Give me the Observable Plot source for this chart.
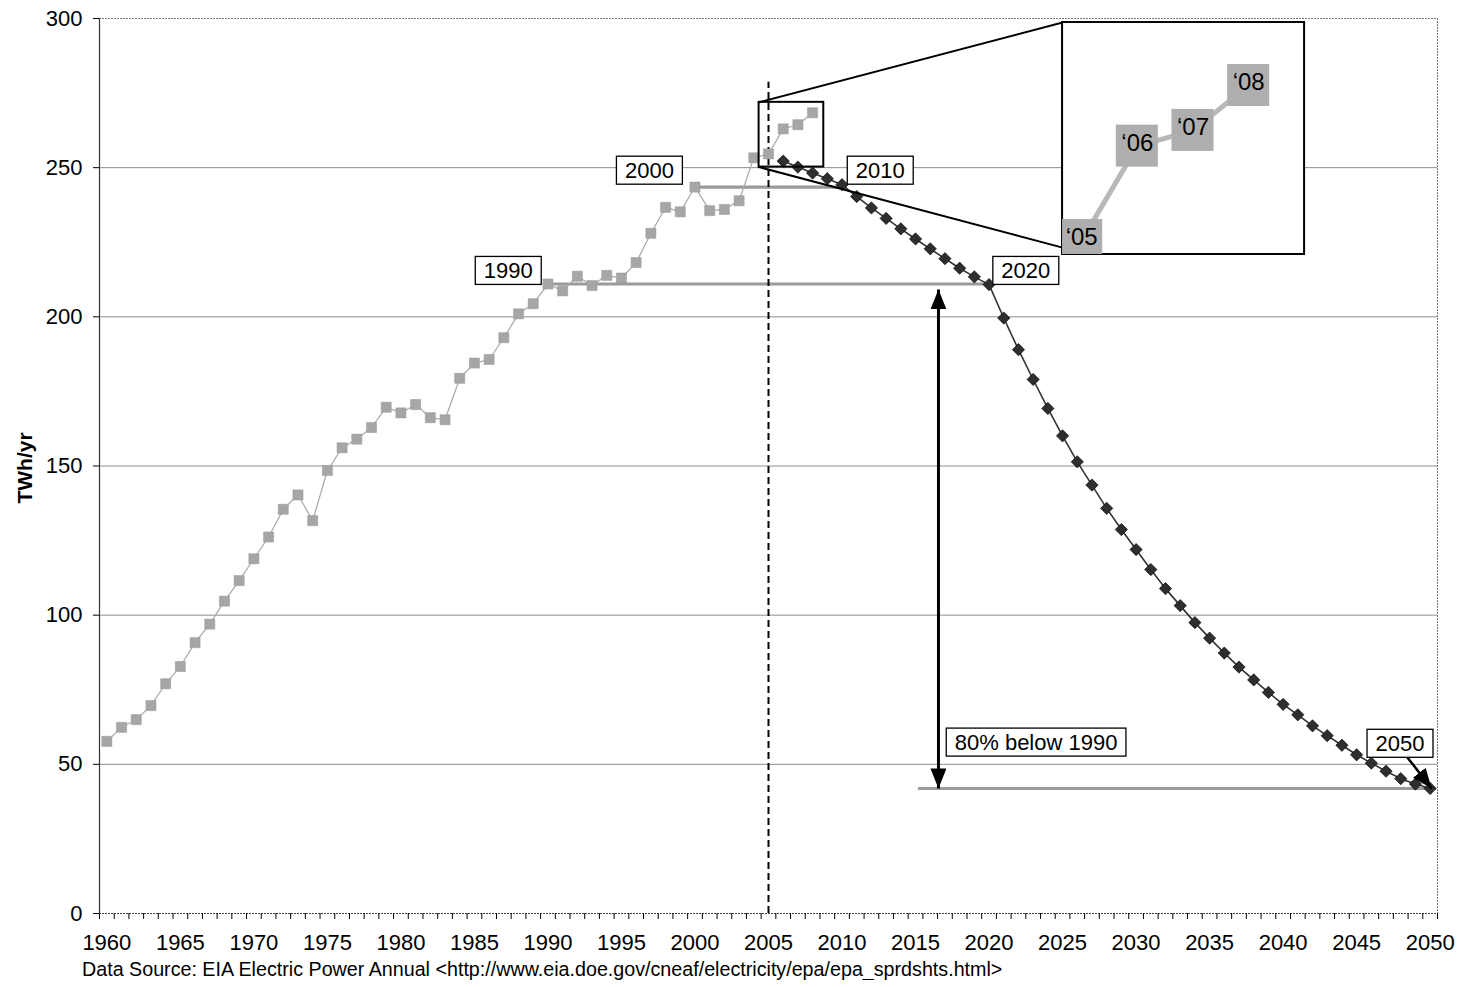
<!DOCTYPE html>
<html>
<head>
<meta charset="utf-8">
<script src="https://cdn.jsdelivr.net/npm/d3@7"></script>
<script src="https://cdn.jsdelivr.net/npm/@observablehq/plot@0.6"></script>
<style>
  body { margin: 0; background: #fff; }
  #caption { font-family: "Liberation Sans", Arial, sans-serif; font-size: 19.7px; line-height: 22px; margin-left: 82px; color: #000; white-space: nowrap; }
</style>
</head>
<body>
<div id="chart"></div>
<div id="caption">Data Source: EIA Electric Power Annual &lt;http://www.eia.doe.gov/cneaf/electricity/epa/epa_sprdshts.html&gt;</div>
<script>
// ---------- data ----------
const histYears = d3.range(1960, 2009);
const histValues = [
  57.7, 62.4, 65.0, 69.7, 77.0, 82.8, 90.8, 97.0, 104.7, 111.6,
  118.9, 126.2, 135.5, 140.3, 131.7, 148.5, 156.1, 159.0, 162.9, 169.7,
  167.8, 170.6, 166.2, 165.5, 179.4, 184.5, 185.7, 193.0, 201.0, 204.4,
  211.0, 208.7, 213.6, 210.5, 213.9, 213.0, 218.2, 228.0, 236.7, 235.2,
  243.5, 235.6, 236.0, 238.9, 253.3, 254.6, 263.0, 264.4, 268.4
];
const projYears = d3.range(2006, 2051);
const projValues = [
  252.2, 250.2, 248.2, 246.3, 244.3, 240.3, 236.5, 233.0, 229.5, 226.1,
  222.8, 219.5, 216.3, 213.4, 210.8, 199.6, 189.0, 179.0, 169.3, 160.1,
  151.4, 143.6, 135.8, 128.7, 122.0, 115.3, 108.9, 103.2, 97.5, 92.3,
  87.3, 82.6, 78.3, 74.1, 70.1, 66.6, 62.9, 59.6, 56.4, 53.2,
  50.4, 47.7, 45.2, 43.4, 41.9
];
const yTicks = [0, 50, 100, 150, 200, 250, 300];
const gridValues = [50, 100, 150, 200, 250];
const xLabelYears = d3.range(1960, 2051, 5);
const xTickBounds = d3.range(1959.5, 2051, 1);
const insetYears = [2005, 2006, 2007, 2008];
const insetLabels = ["\u201805", "\u201806", "\u201807", "\u201808"];

// annotation labels (boxed)
const boxedLabels = [
  {text: "2000", x: 1996.9, y: 249.0},
  {text: "2010", x: 2012.6, y: 249.0},
  {text: "1990", x: 1987.3, y: 215.4},
  {text: "2020", x: 2022.5, y: 215.4},
  {text: "80% below 1990", x: 2023.2, y: 57.3},
  {text: "2050", x: 2047.95, y: 56.9}
];

// ---------- derived tables ----------
const hist = histYears.map((year, i) => ({year, value: histValues[i]}));
const proj = projYears.map((year, i) => ({year, value: projValues[i]}));
const hv = y => histValues[histYears.indexOf(y)];
const pv = y => projValues[projYears.indexOf(y)];

const levelLines = [
  {x1: 2000, x2: 2010.35, y: hv(2000)},
  {x1: 1990, x2: 2020, y: hv(1990)},
  {x1: 2015.2, x2: 2050, y: pv(2050)}
];

// zoom box and inset box (data units)
const zoomBox = {x1: 2004.36, x2: 2008.76, y1: 250.2, y2: 271.9};
const insetBox = {x1: 2025.0, x2: 2041.46, y1: 220.9, y2: 298.66};
const connectors = [
  {id: "a", x: zoomBox.x1, y: zoomBox.y2}, {id: "a", x: insetBox.x1, y: insetBox.y2},
  {id: "b", x: zoomBox.x1, y: zoomBox.y1}, {id: "b", x: insetBox.x1, y: 223.2}
];
// inset magnification of the 2005-2008 points
const insetAnchor = {x: 2026.3, y: 225.6};
const insetKx = 3.786, insetKy = 3.764;
const halfW = 1.43, halfH = 7.04;
const inset = insetYears.map((year, i) => {
  const cx = insetAnchor.x + (year - 2005) * insetKx;
  const cy = insetAnchor.y + (hv(year) - hv(2005)) * insetKy;
  return {
    label: insetLabels[i], cx, cy,
    x1: Math.max(cx - halfW, insetBox.x1), x2: Math.min(cx + halfW, insetBox.x2),
    y1: Math.max(cy - halfH, insetBox.y1), y2: Math.min(cy + halfH, insetBox.y2)
  };
});

const doubleArrow = [{x: 2016.56, y1: 209.2, y2: pv(2050)}];
const arrow2050 = [{x1: 2048.44, y1: 52.4, x2: 2050.1, y2: pv(2050)}];

// ---------- plot ----------
const chart = Plot.plot({
  width: 1461,
  height: 958,
  marginLeft: 99,
  marginRight: 24,
  marginTop: 18,
  marginBottom: 45,
  x: {domain: [1959.5, 2050.5]},
  y: {domain: [0, 300]},
  style: {fontFamily: "'Liberation Sans', Arial, sans-serif", fontSize: "22px", background: "white", color: "black"},
  marks: [
    Plot.ruleY(gridValues, {stroke: "#8c8c8c", strokeWidth: 1}),
    Plot.ruleY([300], {stroke: "#777", strokeDasharray: "2,1"}),
    Plot.ruleX([2050.5], {stroke: "#777", strokeDasharray: "2,1"}),
    Plot.ruleY([0], {stroke: "#444", strokeDasharray: "2,1", strokeWidth: 1.2}),
    Plot.ruleX([1959.5], {stroke: "#333", strokeWidth: 1.2}),
    Plot.ruleY(levelLines, {y: "y", x1: "x1", x2: "x2", stroke: "#9a9a9a", strokeWidth: 3.2}),
    Plot.ruleX([2005], {y1: 0, y2: 278.6, stroke: "black", strokeWidth: 2, strokeDasharray: "7,4"}),
    Plot.line(hist, {x: "year", y: "value", stroke: "#a8a8a8", strokeWidth: 1.2}),
    Plot.dot(hist, {x: "year", y: "value", symbol: "square", r: 5.7, fill: "#a6a6a6", stroke: "#999", strokeWidth: 0.5}),
    Plot.line(proj, {x: "year", y: "value", stroke: "#333", strokeWidth: 1.6}),
    Plot.dot(proj, {x: "year", y: "value", symbol: "square", rotate: 45, r: 4.9, fill: "#2e2e2e", stroke: "#000", strokeWidth: 0.6}),
    Plot.rect([zoomBox], {x1: "x1", x2: "x2", y1: "y1", y2: "y2", fill: "none", stroke: "black", strokeWidth: 2}),
    Plot.line(connectors, {x: "x", y: "y", z: "id", stroke: "black", strokeWidth: 2}),
    Plot.rect([insetBox], {x1: "x1", x2: "x2", y1: "y1", y2: "y2", fill: "white", stroke: "black", strokeWidth: 2}),
    Plot.line(inset, {x: "cx", y: "cy", stroke: "#b8b8b8", strokeWidth: 5}),
    Plot.rect(inset, {x1: "x1", x2: "x2", y1: "y1", y2: "y2", fill: "#aeaeae"}),
    Plot.text(inset, {x: "cx", y: "cy", text: "label", fontSize: 24, fill: "black", dy: -3}),
    Plot.link(doubleArrow, {x1: "x", x2: "x", y1: "y1", y2: "y2", stroke: "black", strokeWidth: 3}),
    Plot.link(arrow2050, {x1: "x1", y1: "y1", x2: "x2", y2: "y2", stroke: "black", strokeWidth: 2.5}),
    Plot.text(boxedLabels, {x: "x", y: "y", text: "text", fontSize: 22, fill: "black"}),
    Plot.text(["TWh/yr"], {text: d => d, frameAnchor: "left", textAnchor: "middle", dx: -74, dy: 2, rotate: -90, fontWeight: "bold", fontSize: 21, fill: "black"}),
    Plot.axisY({ticks: yTicks, tickSize: 6, tickPadding: 11, label: null, fontSize: 22}),
    Plot.axisX({ticks: xTickBounds, tickSize: 6, tickFormat: () => "", label: null}),
    Plot.axisX({ticks: xLabelYears, tickSize: 0, tickPadding: 21, tickFormat: d => String(d), label: null, fontSize: 22})
  ]
});

document.getElementById("chart").append(chart);

// ---------- post: arrow heads and label boxes ----------
const svg = chart.tagName.toLowerCase() === "svg" ? chart : chart.querySelector("svg");
const NS = "http://www.w3.org/2000/svg";
const defs = document.createElementNS(NS, "defs");
function makeMarker(id, len, wid) {
  const m = document.createElementNS(NS, "marker");
  m.setAttribute("id", id);
  m.setAttribute("viewBox", `0 0 ${len} ${wid}`);
  m.setAttribute("refX", len);
  m.setAttribute("refY", wid / 2);
  m.setAttribute("markerWidth", len);
  m.setAttribute("markerHeight", wid);
  m.setAttribute("markerUnits", "userSpaceOnUse");
  m.setAttribute("orient", "auto-start-reverse");
  const p = document.createElementNS(NS, "path");
  p.setAttribute("d", `M0,0L${len},${wid / 2}L0,${wid}Z`);
  p.setAttribute("fill", "#000");
  m.append(p);
  defs.append(m);
}
makeMarker("headBig", 20, 16);
makeMarker("headSmall", 20, 16);
svg.insertBefore(defs, svg.firstChild);
const linkGroups = svg.querySelectorAll('g[aria-label="link"]');
if (linkGroups[0]) linkGroups[0].querySelectorAll("path").forEach(p => {
  p.setAttribute("marker-start", "url(#headBig)");
  p.setAttribute("marker-end", "url(#headBig)");
});
if (linkGroups[1]) linkGroups[1].querySelectorAll("path").forEach(p => {
  p.setAttribute("marker-end", "url(#headSmall)");
});

const boxedSet = new Set(boxedLabels.map(d => d.text));
svg.querySelectorAll('g[aria-label="text"] text').forEach(t => {
  if (!boxedSet.has(t.textContent)) return;
  const b = t.getBBox();
  const padX = 8.5, padY = 1.5;
  const r = document.createElementNS(NS, "rect");
  r.setAttribute("x", b.x - padX);
  r.setAttribute("y", b.y - padY);
  r.setAttribute("width", b.width + 2 * padX);
  r.setAttribute("height", b.height + 2 * padY);
  r.setAttribute("fill", "white");
  r.setAttribute("stroke", "black");
  r.setAttribute("stroke-width", 1.3);
  const tr = t.getAttribute("transform");
  if (tr) r.setAttribute("transform", tr);
  t.parentNode.insertBefore(r, t);
});
</script>
</body>
</html>
